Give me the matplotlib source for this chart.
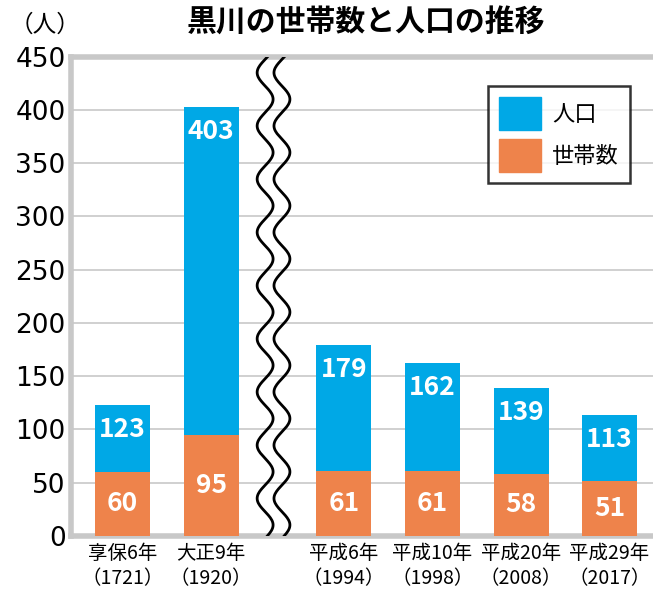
import numpy as np
import matplotlib
matplotlib.use("Agg")
import matplotlib.pyplot as plt
from matplotlib.patches import Patch

plt.rcParams['font.family'] = ['Noto Sans CJK JP', 'DejaVu Sans']

labels = ["享保6年\n（1721）", "大正9年\n（1920）", "平成6年\n（1994）",
          "平成10年\n（1998）", "平成20年\n（2008）", "平成29年\n（2017）"]
population = [123, 403, 179, 162, 139, 113]
households = [60, 95, 61, 61, 58, 51]
positions = [0, 1, 2.5, 3.5, 4.5, 5.5]

BLUE = "#00A8E6"
ORANGE = "#EE834B"
GRID = "#C8C8C8"

fig = plt.figure(figsize=(6.53, 5.92), dpi=100)
ax = fig.add_axes([0.109, 0.095, 0.891, 0.809])

ax.bar(positions, population, width=0.62, color=BLUE, zorder=2)
ax.bar(positions, households, width=0.62, color=ORANGE, zorder=3)

for x, p, h in zip(positions, population, households):
    ax.text(x, p - 23, str(p), ha="center", va="center", color="white",
            fontsize=19, fontweight="bold", zorder=4)
    ax.text(x, h / 2, str(h), ha="center", va="center", color="white",
            fontsize=19, fontweight="bold", zorder=4)

# wavy break marks
yy = np.linspace(0, 450, 400)
for xc in (1.61, 1.80):
    ax.plot(xc + 0.09 * np.sin(yy / 50 * 2 * np.pi + 0.3), yy, color="black",
            lw=2, zorder=5, clip_on=True)

ax.set_xlim(-0.58, 5.99)
ax.set_ylim(0, 450)
ax.set_yticks(range(0, 451, 50))
ax.set_xticks(positions)
ax.set_xticklabels(labels, fontsize=14, linespacing=1.25)
ax.tick_params(axis="y", length=0, labelsize=19, pad=4)
ax.tick_params(axis="x", length=0, pad=5)
for lab in ax.get_yticklabels():
    lab.set_family(["Liberation Sans Narrow", "DejaVu Sans"])

ax.grid(axis="y", color=GRID, lw=1.2, zorder=0)
ax.spines["right"].set_visible(False)
for s in ("left", "bottom", "top"):
    ax.spines[s].set_color(GRID)
    ax.spines[s].set_linewidth(4)

leg = ax.legend(handles=[Patch(color=BLUE, label="人口"), Patch(color=ORANGE, label="世帯数")],
                loc="upper right", bbox_to_anchor=(0.98, 0.962), fontsize=16,
                frameon=True, fancybox=False, edgecolor="black", handlelength=1.9,
                handleheight=1.9, handletextpad=0.5, borderpad=0.5, labelspacing=0.4)
leg.get_frame().set_linewidth(1.8)

fig.text(0.56, 0.962, "黒川の世帯数と人口の推移", ha="center", va="center",
         fontsize=21.5, fontweight="bold")
fig.text(0.015, 0.958, "（人）", ha="left", va="center", fontsize=17)

fig.savefig("out.png", dpi=100)
